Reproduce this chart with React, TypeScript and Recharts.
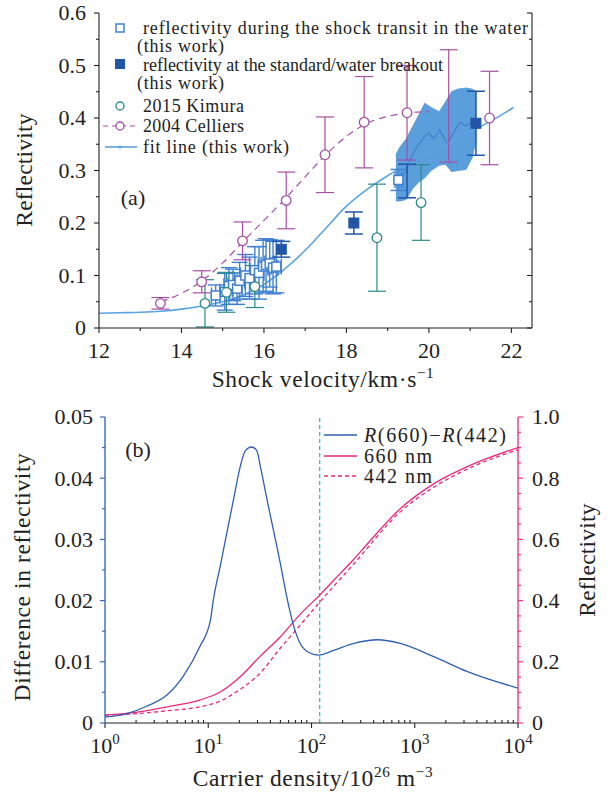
import React from 'react';
import { ComposedChart, Line, Scatter, Area, XAxis, YAxis, ErrorBar, ReferenceLine, Legend } from 'recharts';

const FONT = '"Liberation Serif", "DejaVu Serif", serif';

// ---------- panel (a): reflectivity vs shock velocity ----------
const velTicks = [12, 13, 14, 15, 16, 17, 18, 19, 20, 21, 22];
const reflTicks = [0, 0.05, 0.1, 0.15, 0.2, 0.25, 0.3, 0.35, 0.4, 0.45, 0.5, 0.55, 0.6];

const fitLine = [
  { x: 12, y: 0.028 }, { x: 12.5, y: 0.029 }, { x: 13, y: 0.03 }, { x: 13.5, y: 0.032 },
  { x: 14, y: 0.036 }, { x: 14.5, y: 0.042 }, { x: 15, y: 0.05 }, { x: 15.5, y: 0.063 },
  { x: 16, y: 0.083 }, { x: 16.5, y: 0.112 }, { x: 17, y: 0.148 }, { x: 17.5, y: 0.19 },
  { x: 18, y: 0.232 }, { x: 18.5, y: 0.264 }, { x: 19, y: 0.29 }, { x: 19.5, y: 0.313 },
  { x: 20, y: 0.334 }, { x: 20.5, y: 0.354 }, { x: 21, y: 0.374 }, { x: 21.5, y: 0.394 },
  { x: 22.05, y: 0.42 },
];

const celliersCurve = [
  { x: 13.5, y: 0.05 }, { x: 14, y: 0.066 }, { x: 14.5, y: 0.09 }, { x: 15, y: 0.124 },
  { x: 15.5, y: 0.165 }, { x: 16, y: 0.205 }, { x: 16.5, y: 0.245 }, { x: 17, y: 0.288 },
  { x: 17.5, y: 0.33 }, { x: 18, y: 0.365 }, { x: 18.5, y: 0.39 }, { x: 19, y: 0.403 },
  { x: 19.5, y: 0.41 }, { x: 20, y: 0.412 },
];

// hidden: marker sits under the dense cluster, only its bar shows
const celliers = [
  { x: 13.49, y: 0.047, ey: 0.011 }, { x: 14.49, y: 0.088, ey: 0.021 },
  { x: 15.48, y: 0.166, ey: 0.036 }, { x: 16.54, y: 0.243, ey: 0.054 },
  { x: 17.48, y: 0.33, ey: 0.072 }, { x: 18.43, y: 0.392, ey: 0.087 },
  { x: 19.47, y: 0.41, ey: 0.09 }, { x: 20.48, y: 0.423, ey: 0.107, hidden: true },
  { x: 21.47, y: 0.4, ey: 0.089 },
];

const kimura = [
  { x: 14.57, y: 0.047, ey: 0.045 }, { x: 15.09, y: 0.068, ey: 0.038 },
  { x: 15.78, y: 0.079, ey: 0.04 }, { x: 18.74, y: 0.172, ey: 0.102 },
  { x: 19.81, y: 0.239, ey: 0.072 },
];

const transit = [
  { x: 14.83, y: 0.062, ey: 0.02, ex: 0.1 }, { x: 15.05, y: 0.069, ey: 0.035, ex: 0.12 },
  { x: 15.15, y: 0.08, ey: 0.035, ex: 0.12 }, { x: 15.25, y: 0.082, ey: 0.03, ex: 0.12 },
  { x: 15.35, y: 0.075, ey: 0.03, ex: 0.12 }, { x: 15.41, y: 0.09, ey: 0.035, ex: 0.12 },
  { x: 15.55, y: 0.1, ey: 0.04, ex: 0.12 }, { x: 15.65, y: 0.095, ey: 0.04, ex: 0.12 },
  { x: 15.78, y: 0.11, ey: 0.045, ex: 0.12 }, { x: 15.88, y: 0.105, ey: 0.05, ex: 0.12 },
  { x: 15.98, y: 0.117, ey: 0.05, ex: 0.12 }, { x: 16.05, y: 0.12, ey: 0.05, ex: 0.12 },
  { x: 16.14, y: 0.123, ey: 0.045, ex: 0.12 }, { x: 16.22, y: 0.115, ey: 0.05, ex: 0.12 },
  { x: 16.3, y: 0.117, ey: 0.05, ex: 0.12 }, { x: 19.26, y: 0.282, ey: 0.02, ex: 0.08 },
];

// dense cluster of transit points near 19-21 km/s, drawn as its filled envelope
const transitBand = [
  { x: 19.2, r: [0.242, 0.33] }, { x: 19.3, r: [0.242, 0.345] }, { x: 19.45, r: [0.245, 0.36] },
  { x: 19.6, r: [0.265, 0.383] }, { x: 19.75, r: [0.278, 0.405] }, { x: 19.9, r: [0.286, 0.428] },
  { x: 20.05, r: [0.3, 0.42] }, { x: 20.25, r: [0.31, 0.412] }, { x: 20.4, r: [0.312, 0.43] },
  { x: 20.55, r: [0.298, 0.45] }, { x: 20.7, r: [0.3, 0.455] }, { x: 20.9, r: [0.302, 0.457] },
  { x: 21.05, r: [0.325, 0.455] }, { x: 21.15, r: [0.36, 0.45] },
];
const transitTrace = [
  { x: 19.3, y: 0.285 }, { x: 19.45, y: 0.3 }, { x: 19.6, y: 0.33 }, { x: 19.75, y: 0.35 },
  { x: 19.9, y: 0.365 }, { x: 20.0, y: 0.372 }, { x: 20.12, y: 0.36 }, { x: 20.26, y: 0.378 },
  { x: 20.38, y: 0.36 }, { x: 20.45, y: 0.352 }, { x: 20.6, y: 0.372 }, { x: 20.75, y: 0.392 },
  { x: 20.9, y: 0.385 }, { x: 21.05, y: 0.392 },
];

const breakout = [
  { x: 16.42, y: 0.15, ey: 0.015 }, { x: 18.18, y: 0.2, ey: 0.021 },
  { x: 19.47, y: 0.28, ey: 0.032, hidden: true }, { x: 21.14, y: 0.39, ey: 0.061 },
];

// ---------- panel (b): vs carrier density ----------
const densTicks = [1, 2, 3, 4, 5, 6, 7, 8, 9, 10, 20, 30, 40, 50, 60, 70, 80, 90, 100, 200, 300, 400, 500, 600, 700, 800, 900, 1000, 2000, 3000, 4000, 5000, 6000, 7000, 8000, 9000, 10000];
const diffTicks = [0, 0.005, 0.01, 0.015, 0.02, 0.025, 0.03, 0.035, 0.04, 0.045, 0.05];
const reflRightTicks = [0, 0.05, 0.1, 0.15, 0.2, 0.25, 0.3, 0.35, 0.4, 0.45, 0.5, 0.55, 0.6, 0.65, 0.7, 0.75, 0.8, 0.85, 0.9, 0.95, 1];

const diffCurve = [
  { x: 1, y: 0.001 }, { x: 1.6, y: 0.0015 }, { x: 2.5, y: 0.0027 }, { x: 4, y: 0.0046 },
  { x: 5.8, y: 0.0078 }, { x: 8.3, y: 0.0125 }, { x: 10.5, y: 0.0168 }, { x: 11.2, y: 0.0201 },
  { x: 13.2, y: 0.026 }, { x: 15.1, y: 0.031 }, { x: 17.8, y: 0.037 }, { x: 20.4, y: 0.0419 },
  { x: 22.9, y: 0.0445 }, { x: 26.3, y: 0.0451 }, { x: 29.5, y: 0.0445 }, { x: 32, y: 0.0419 },
  { x: 37.2, y: 0.0364 }, { x: 50, y: 0.026 }, { x: 57.5, y: 0.0207 }, { x: 67.6, y: 0.0157 },
  { x: 77.6, y: 0.013 }, { x: 97.7, y: 0.0114 }, { x: 117, y: 0.0111 }, { x: 166, y: 0.0119 },
  { x: 257, y: 0.013 }, { x: 437, y: 0.0136 }, { x: 724, y: 0.013 }, { x: 1550, y: 0.0108 },
  { x: 3240, y: 0.0084 }, { x: 10000, y: 0.0057 },
];
const r660 = [
  { x: 1, y: 0.026 }, { x: 1.9, y: 0.034 }, { x: 4, y: 0.053 }, { x: 8.3, y: 0.075 },
  { x: 13.2, y: 0.102 }, { x: 20.4, y: 0.151 }, { x: 31.6, y: 0.217 }, { x: 50, y: 0.282 },
  { x: 77.6, y: 0.355 }, { x: 120, y: 0.418 }, { x: 166, y: 0.468 }, { x: 257, y: 0.535 },
  { x: 347, y: 0.585 }, { x: 724, y: 0.7 }, { x: 1550, y: 0.783 }, { x: 3240, y: 0.838 },
  { x: 10000, y: 0.9 },
];
const r442 = [
  { x: 1, y: 0.026 }, { x: 1.9, y: 0.03 }, { x: 4, y: 0.04 }, { x: 8.3, y: 0.053 },
  { x: 13.2, y: 0.072 }, { x: 17.8, y: 0.097 }, { x: 31.6, y: 0.162 }, { x: 50, y: 0.245 },
  { x: 77.6, y: 0.32 }, { x: 120, y: 0.395 }, { x: 257, y: 0.52 }, { x: 724, y: 0.69 },
  { x: 1550, y: 0.772 }, { x: 3240, y: 0.83 }, { x: 10000, y: 0.893 },
];
const markerDensity = 120;

const C = {
  purple: '#a64fa6',
  teal: '#2a8a86',
  light: '#3f80d2',
  fit: '#5aa3e0',
  band: '#5b9edc',
  dark: '#2255a6',
  blue: '#2f5fb0',
  pink: '#e8287c',
  cyan: '#3db6c6',
};

type TickOpts = {
  side: 'bottom' | 'top' | 'left' | 'right';
  isMajor: (v: number) => boolean;
  majorOut: boolean;
  minorOut: boolean;
  label?: (v: number) => React.ReactNode;
  color?: string;
  gap?: number;
};

const makeTick = (o: TickOpts) => (props: any) => {
  const { x, y, payload } = props;
  const v = payload.value;
  const major = o.isMajor(v);
  const len = major ? 5 : 3;
  const s = (major ? o.majorOut : o.minorOut) ? 1 : -1;
  let x2 = x, y2 = y;
  if (o.side === 'bottom') y2 = y + s * len;
  if (o.side === 'top') y2 = y - s * len;
  if (o.side === 'left') x2 = x - s * len;
  if (o.side === 'right') x2 = x + s * len;
  let label = null;
  if (major && o.label) {
    const common = { fontFamily: FONT, fontSize: 22, fill: '#222' };
    if (o.side === 'bottom') label = <text x={x} y={y + (o.gap || 30)} textAnchor="middle" {...common}>{o.label(v)}</text>;
    if (o.side === 'left') label = <text x={x - (o.gap || 12)} y={y} dy="0.34em" textAnchor="end" {...common}>{o.label(v)}</text>;
    if (o.side === 'right') label = <text x={x + (o.gap || 12)} y={y} dy="0.34em" textAnchor="start" {...common}>{o.label(v)}</text>;
  }
  return (
    <g>
      <line x1={x} y1={y} x2={x2} y2={y2} stroke={o.color || '#222'} strokeWidth={1.1} />
      {label}
    </g>
  );
};

const isPow10 = (v: number) => Math.abs(Math.log10(v) - Math.round(Math.log10(v))) < 1e-9;
const powLabel = (v: number) => (
  <>10<tspan dy={-9} fontSize={15}>{Math.round(Math.log10(v))}</tspan></>
);

const openSquare = (color: string) => (p: any) =>
  p.payload?.hidden ? <g /> : <rect x={p.cx - 4.5} y={p.cy - 4.5} width={9} height={9} fill="#fff" stroke={color} strokeWidth={1.5} />;
const filledSquare = (color: string) => (p: any) =>
  p.payload?.hidden ? <g /> : <rect x={p.cx - 5} y={p.cy - 5} width={10} height={10} fill={color} stroke={color} />;
const openCircle = (color: string) => (p: any) =>
  p.payload?.hidden ? <g /> : <circle cx={p.cx} cy={p.cy} r={4.8} fill="#fff" stroke={color} strokeWidth={1.3} />;

const LegendA = () => {
  const t = { fontFamily: FONT, fontSize: 18, fill: '#222', lengthAdjust: 'spacing' as const };
  return (
    <svg width={616} height={160}>
      <rect x={116} y={24} width={8} height={8} fill="#fff" stroke={C.light} strokeWidth={1.5} />
      <text x={143} y={33.5} textLength={385} {...t}>reflectivity during the shock transit in the water</text>
      <text x={137} y={51.5} textLength={87} {...t}>(this work)</text>
      <rect x={115} y={59} width={10} height={10} fill={C.dark} />
      <text x={143} y={70.5} textLength={300} {...t}>reflectivity at the standard/water breakout</text>
      <text x={137} y={88.5} textLength={87} {...t}>(this work)</text>
      <circle cx={120} cy={106} r={4} fill="#fff" stroke={C.teal} strokeWidth={1.3} />
      <text x={143} y={112} textLength={101} {...t}>2015 Kimura</text>
      <line x1={103} y1={126} x2={137} y2={126} stroke={C.purple} strokeWidth={1.2} strokeDasharray="5 4" />
      <circle cx={120} cy={126} r={4} fill="#fff" stroke={C.purple} strokeWidth={1.3} />
      <text x={143} y={132} textLength={101} {...t}>2004 Celliers</text>
      <line x1={105} y1={147} x2={137} y2={147} stroke={C.fit} strokeWidth={1.6} />
      <circle cx={120} cy={147} r={1.6} fill={C.fit} />
      <text x={143} y={153} textLength={146} {...t}>fit line (this work)</text>
    </svg>
  );
};

const LegendB = () => {
  const t = { fontFamily: FONT, fontSize: 20, fill: '#222', lengthAdjust: 'spacing' as const };
  return (
    <svg width={616} height={110}>
      <line x1={324} y1={45} x2={357} y2={45} stroke={C.blue} strokeWidth={1.3} />
      <text x={364} y={51.5} textLength={142} {...t}>
        <tspan fontStyle="italic">R</tspan>(660)−<tspan fontStyle="italic">R</tspan>(442)
      </text>
      <line x1={324} y1={66} x2={357} y2={66} stroke={C.pink} strokeWidth={1.3} />
      <text x={364} y={72.5} textLength={68} {...t}>660 nm</text>
      <line x1={324} y1={86} x2={357} y2={86} stroke={C.pink} strokeWidth={1.3} strokeDasharray="4 3" />
      <text x={364} y={93} textLength={68} {...t}>442 nm</text>
    </svg>
  );
};

const Title = ({ cx, cy, rot, size = 23.5, spacing = 0.6, children }: any) => (
  <div
    style={{
      position: 'absolute', left: cx, top: cy, whiteSpace: 'nowrap', fontSize: size, lineHeight: 1,
      letterSpacing: spacing, color: '#222', transform: `translate(-50%, -50%)${rot ? ' rotate(-90deg)' : ''}`,
    }}
  >
    {children}
  </div>
);

const sup = { fontSize: '0.65em', verticalAlign: '0.6em' };

export default function App() {
  const axisBlack = { stroke: '#222', strokeWidth: 1.1 };
  return (
    <div style={{ position: 'absolute', left: 0, top: 0, width: 616, height: 792, background: '#fff', fontFamily: FONT }}>
      <div style={{ position: 'absolute', left: 0, top: 0 }}>
        <ComposedChart width={616} height={390} margin={{ top: 13, right: 0, bottom: 0, left: 0 }}>
          <XAxis xAxisId="0" type="number" dataKey="x" domain={[12, 22.5]} allowDataOverflow ticks={velTicks}
            interval={0} height={62} tickSize={0} tickMargin={0} tickLine={false} axisLine={axisBlack}
            tick={makeTick({ side: 'bottom', isMajor: (v) => v % 2 === 0, majorOut: true, minorOut: true, label: (v) => String(v) })} />
          <XAxis xAxisId="t" orientation="top" type="number" domain={[12, 22.5]} allowDataOverflow ticks={velTicks}
            interval={0} height={0} tickSize={0} tickMargin={0} tickLine={false} axisLine={axisBlack}
            tick={makeTick({ side: 'top', isMajor: (v) => v % 2 === 0, majorOut: false, minorOut: false })} />
          <YAxis yAxisId="0" type="number" dataKey="y" domain={[0, 0.6]} allowDataOverflow ticks={reflTicks}
            interval={0} width={99} tickSize={0} tickMargin={0} tickLine={false} axisLine={axisBlack}
            tick={makeTick({ side: 'left', isMajor: (v) => Math.round(v * 100) % 10 === 0, majorOut: true, minorOut: true, gap: 13, label: (v) => (v === 0 ? '0' : v.toFixed(1)) })} />
          <YAxis yAxisId="r" orientation="right" type="number" domain={[0, 0.6]} allowDataOverflow ticks={reflTicks}
            interval={0} width={84} tickSize={0} tickMargin={0} tickLine={false} axisLine={axisBlack}
            tick={makeTick({ side: 'right', isMajor: (v) => Math.round(v * 100) % 10 === 0, majorOut: false, minorOut: false })} />

          <Line data={celliersCurve} dataKey="y" type="monotone" stroke={C.purple} strokeWidth={1.2} strokeDasharray="7 5" dot={false} isAnimationActive={false} />
          <Area data={transitBand} dataKey="r" type="linear" fill={C.band} fillOpacity={1} stroke={C.band} strokeWidth={1}
            isAnimationActive={false} dot={false} activeDot={false} />
          <Line data={transitTrace} dataKey="y" type="linear" stroke="#3a72c4" strokeWidth={1} dot={false} isAnimationActive={false} />
          <Line data={fitLine} dataKey="y" type="monotone" stroke={C.fit} strokeWidth={1.6} dot={false} isAnimationActive={false} />

          <Scatter data={transit} shape={openSquare(C.light)} isAnimationActive={false}>
            <ErrorBar dataKey="ey" direction="y" width={8} stroke={C.light} strokeWidth={1.4} />
            <ErrorBar dataKey="ex" direction="x" width={8} stroke={C.light} strokeWidth={1.4} />
          </Scatter>
          <Scatter data={kimura} shape={openCircle(C.teal)} isAnimationActive={false}>
            <ErrorBar dataKey="ey" direction="y" width={9} stroke={C.teal} strokeWidth={1.2} />
          </Scatter>
          <Scatter data={celliers} shape={openCircle(C.purple)} isAnimationActive={false}>
            <ErrorBar dataKey="ey" direction="y" width={9} stroke={C.purple} strokeWidth={1.2} />
          </Scatter>
          <Scatter data={breakout} shape={filledSquare(C.dark)} isAnimationActive={false}>
            <ErrorBar dataKey="ey" direction="y" width={9} stroke={C.dark} strokeWidth={1.5} />
          </Scatter>

          <Legend layout="vertical" align="center" verticalAlign="middle" wrapperStyle={{ left: 0, top: 0, width: 616 }}
            content={() => <LegendA />} />
        </ComposedChart>
      </div>

      <div style={{ position: 'absolute', left: 0, top: 390 }}>
        <ComposedChart width={616} height={402} margin={{ top: 27, right: 0, bottom: 0, left: 0 }}>
          <XAxis xAxisId="0" type="number" dataKey="x" scale="log" domain={[1, 10000]} allowDataOverflow ticks={densTicks}
            interval={0} height={69} tickSize={0} tickMargin={0} tickLine={false} axisLine={axisBlack}
            tick={makeTick({ side: 'bottom', isMajor: isPow10, majorOut: true, minorOut: false, gap: 30, label: powLabel })} />
          <XAxis xAxisId="t" orientation="top" type="number" scale="log" domain={[1, 10000]} allowDataOverflow ticks={densTicks}
            interval={0} height={0} tickSize={0} tickMargin={0} tickLine={false} axisLine={axisBlack}
            tick={makeTick({ side: 'top', isMajor: isPow10, majorOut: true, minorOut: false })} />
          <YAxis yAxisId="L" type="number" dataKey="y" domain={[0, 0.05]} allowDataOverflow ticks={diffTicks}
            interval={0} width={105} tickSize={0} tickMargin={0} tickLine={false} axisLine={{ stroke: C.blue, strokeWidth: 1.3 }}
            tick={makeTick({ side: 'left', isMajor: (v) => Math.round(v * 1000) % 10 === 0, majorOut: true, minorOut: true, color: C.blue, gap: 12, label: (v) => (v === 0 ? '0' : v.toFixed(2)) })} />
          <YAxis yAxisId="R" orientation="right" type="number" dataKey="y" domain={[0, 1]} allowDataOverflow ticks={reflRightTicks}
            interval={0} width={98} tickSize={0} tickMargin={0} tickLine={false} axisLine={{ stroke: C.pink, strokeWidth: 1.3 }}
            tick={makeTick({ side: 'right', isMajor: (v) => Math.round(v * 100) % 20 === 0, majorOut: true, minorOut: true, color: C.pink, gap: 14, label: (v) => (v === 0 ? '0' : v.toFixed(1)) })} />

          <ReferenceLine x={markerDensity} yAxisId="L" stroke={C.cyan} strokeWidth={1.3} strokeDasharray="4 3" />
          <Line yAxisId="R" data={r442} dataKey="y" type="monotone" stroke={C.pink} strokeWidth={1.3} strokeDasharray="4 3" dot={false} isAnimationActive={false} />
          <Line yAxisId="R" data={r660} dataKey="y" type="monotone" stroke={C.pink} strokeWidth={1.3} dot={false} isAnimationActive={false} />
          <Line yAxisId="L" data={diffCurve} dataKey="y" type="monotone" stroke={C.blue} strokeWidth={1.3} dot={false} isAnimationActive={false} />

          <Legend layout="vertical" align="center" verticalAlign="middle" wrapperStyle={{ left: 0, top: 0, width: 616 }}
            content={() => <LegendB />} />
        </ComposedChart>
      </div>

      <Title cx={133} cy={198} size={22} spacing={0}>(a)</Title>
      <Title cx={138} cy={450} size={22} spacing={0}>(b)</Title>
      <Title cx={25} cy={170} rot spacing={0.2}>Reflectivity</Title>
      <Title cx={323} cy={378}>Shock velocity/km·s<span style={sup}>−1</span></Title>
      <Title cx={23} cy={577} rot>Difference in reflectivity</Title>
      <Title cx={588} cy={560} rot spacing={0.2}>Reflectivity</Title>
      <Title cx={313} cy={777}>Carrier density/10<span style={sup}>26</span> m<span style={sup}>−3</span></Title>
    </div>
  );
}
